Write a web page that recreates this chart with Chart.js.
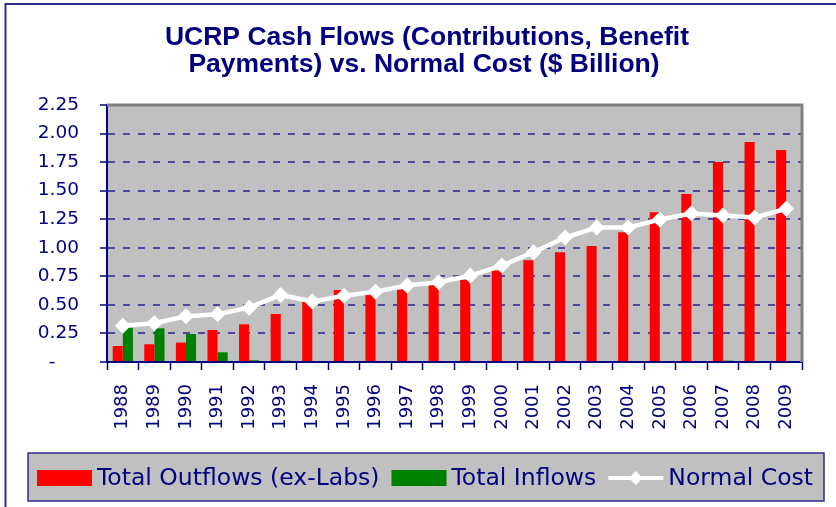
<!DOCTYPE html>
<html>
<head>
<meta charset="utf-8">
<script src="https://cdn.jsdelivr.net/npm/chart.js@4/dist/chart.umd.min.js"></script>
<style>
html,body{margin:0;padding:0;background:#fff;}
#wrap{width:836px;height:507px;position:relative;}
</style>
</head>
<body>
<div id="wrap"><canvas id="c" width="836" height="507"></canvas></div>
<script>
const years = ['1988','1989','1990','1991','1992','1993','1994','1995','1996','1997','1998','1999','2000','2001','2002','2003','2004','2005','2006','2007','2008','2009'];
const totalOutflows = [0.14,0.155,0.17,0.28,0.33,0.42,0.56,0.63,0.59,0.635,0.675,0.72,0.80,0.89,0.96,1.015,1.135,1.31,1.47,1.75,1.925,1.855];
const totalInflows = [0.30,0.295,0.245,0.085,0.015,0.012,0,0,0,0,0,0,0,0,0,0,0,0,0,0.012,0,0];
const normalCost = [0.318,0.34,0.40,0.418,0.476,0.587,0.529,0.58,0.616,0.669,0.698,0.757,0.844,0.961,1.09,1.177,1.177,1.247,1.30,1.283,1.265,1.341];
const yTickLabels = ['-\u00a0\u00a0\u00a0\u00a0','0.25','0.50','0.75','1.00','1.25','1.50','1.75','2.00','2.25'];
const titleLines = ['UCRP Cash Flows (Contributions, Benefit','Payments) vs. Normal Cost ($ Billion)'];

const NAVY = '#000080';
const FONT = "'DejaVu Sans', sans-serif";

const decor = {
  id: 'decor',
  beforeDraw(chart) {
    const {ctx, chartArea: a} = chart;
    ctx.save();
    ctx.fillStyle = '#fff';
    ctx.fillRect(0, 0, chart.width, chart.height);
    ctx.fillStyle = '#C0C0C0';
    ctx.fillRect(a.left, a.top, a.right - a.left, a.bottom - a.top);
    ctx.restore();
  },
  afterDatasetsDraw(chart) {
    const {ctx, chartArea: a} = chart;
    ctx.save();
    ctx.strokeStyle = '#808080';
    ctx.lineWidth = 3;
    ctx.beginPath();
    ctx.moveTo(a.left, a.top);
    ctx.lineTo(a.right, a.top);
    ctx.lineTo(a.right, a.bottom);
    ctx.stroke();
    ctx.restore();
  },
  afterDraw(chart) {
    const ctx = chart.ctx;
    ctx.save();
    // title
    ctx.fillStyle = NAVY;
    ctx.font = "bold 26.5px 'Liberation Sans', Arial, sans-serif";
    ctx.textAlign = 'center';
    ctx.textBaseline = 'middle';
    ctx.fillText(titleLines[0], 427, 38);
    ctx.fillText(titleLines[1], 424, 65);
    // outer frame
    ctx.strokeStyle = '#2e2e8a';
    ctx.lineWidth = 2;
    ctx.beginPath();
    ctx.moveTo(5.5, chart.height);
    ctx.lineTo(5.5, 4);
    ctx.lineTo(chart.width, 4);
    ctx.stroke();
    // legend box
    const bx = 28, by = 453, bw = 796, bh = 48;
    ctx.fillStyle = '#C0C0C0';
    ctx.fillRect(bx, by, bw, bh);
    ctx.strokeStyle = '#2e2e8a';
    ctx.lineWidth = 1.5;
    ctx.strokeRect(bx, by, bw, bh);
    ctx.font = '23.5px ' + FONT;
    ctx.textBaseline = 'middle';
    ctx.textAlign = 'left';
    let x = 37;
    const cy = 478;
    chart.data.datasets.forEach(ds => {
      if (ds.type === 'line') {
        ctx.strokeStyle = '#fff';
        ctx.lineWidth = 4;
        ctx.beginPath();
        ctx.moveTo(x, cy);
        ctx.lineTo(x + 55, cy);
        ctx.stroke();
        ctx.fillStyle = '#fff';
        ctx.beginPath();
        ctx.moveTo(x + 27.5, cy - 7);
        ctx.lineTo(x + 34.5, cy);
        ctx.lineTo(x + 27.5, cy + 7);
        ctx.lineTo(x + 20.5, cy);
        ctx.closePath();
        ctx.fill();
      } else {
        ctx.fillStyle = ds.backgroundColor;
        ctx.fillRect(x, cy - 8, 55, 16);
      }
      ctx.fillStyle = NAVY;
      ctx.fillText(ds.label, x + 60, cy + 1);
      x += 60 + ctx.measureText(ds.label).width + 12;
    });
    ctx.restore();
  }
};

new Chart(document.getElementById('c'), {
  data: {
    labels: years,
    datasets: [
      {type: 'bar', label: 'Total Outflows (ex-Labs)', data: totalOutflows, backgroundColor: '#FF0000', order: 2,
       barPercentage: 1.0, categoryPercentage: 0.64},
      {type: 'bar', label: 'Total Inflows', data: totalInflows, backgroundColor: '#008000', order: 2,
       barPercentage: 1.0, categoryPercentage: 0.64},
      {type: 'line', label: 'Normal Cost', data: normalCost, borderColor: '#FFFFFF', backgroundColor: '#FFFFFF',
       borderWidth: 4.5, pointStyle: 'rectRot', pointRadius: 8, pointBorderWidth: 0, tension: 0, order: 0}
    ]
  },
  options: {
    responsive: false,
    animation: false,
    layout: {padding: {left: 0, right: 34, top: 105, bottom: 0}},
    plugins: {
      legend: {display: false},
      tooltip: {enabled: false},
      title: {display: false}
    },
    scales: {
      x: {
        offset: true,
        grid: {offset: true, drawOnChartArea: false, drawTicks: true, tickLength: 8, tickColor: NAVY, tickWidth: 1.5},
        border: {display: true, color: NAVY, width: 2},
        ticks: {color: NAVY, font: {family: FONT, size: 18}, minRotation: 90, maxRotation: 90, padding: 14, autoSkip: false},
        afterFit(s) { s.height = 145; }
      },
      y: {
        min: 0, max: 2.25,
        grid: {
          color: c => (c.tick && (c.tick.value === 0 || Math.abs(c.tick.value - 2.25) < 1e-6)) ? 'rgba(0,0,0,0)' : '#4a4a9e',
          lineWidth: 2, tickLength: 7, tickColor: NAVY, tickWidth: 1.5, drawTicks: true
        },
        border: {display: true, color: NAVY, width: 2, dash: [7, 8]},
        ticks: {
          stepSize: 0.25, color: NAVY, font: {family: FONT, size: 18.5}, padding: 21,
          callback: (v, i) => yTickLabels[i]
        },
        afterFit(s) { s.width = 107; }
      }
    }
  },
  plugins: [decor]
});
</script>
</body>
</html>
